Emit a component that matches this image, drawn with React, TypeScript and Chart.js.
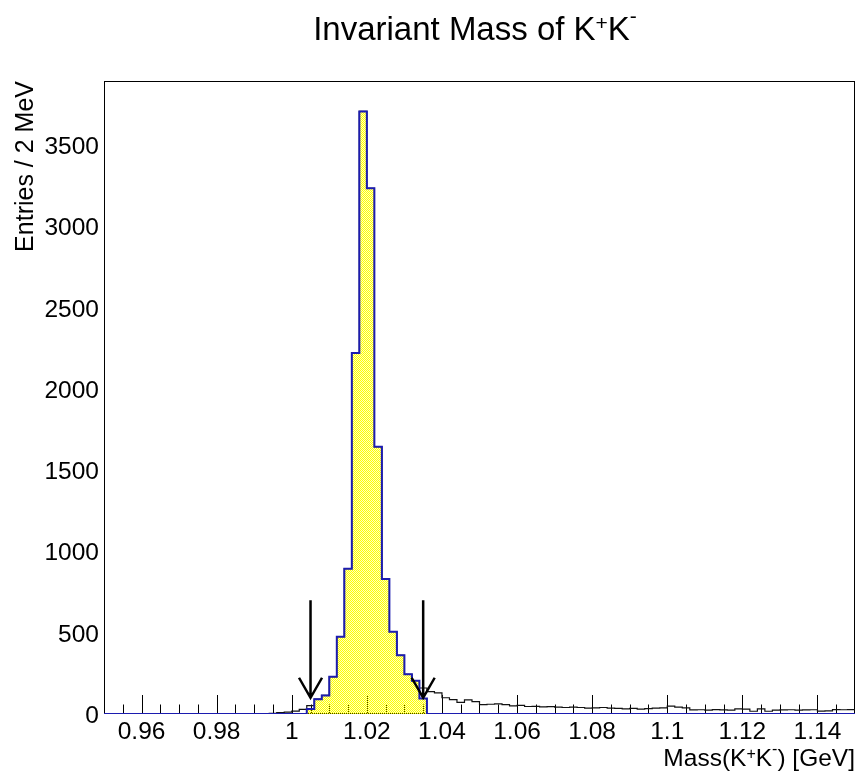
import React, { useEffect, useRef } from 'react';
import { Chart, registerables } from 'chart.js';

Chart.register(...registerables);

// ---- binning & data ----
const xMin = 0.95;
const xMax = 1.15;
const binWidth = 0.002;
const yMax = 3895;

// all K+K- candidates (entries per 2 MeV bin)
const allCounts = [
  0, 0, 0, 0, 0, 0, 0, 0, 0, 0,
  0, 0, 0, 0, 0, 0, 0, 0, 0, 0,
  0, 0, 4, 9, 11, 18, 29, 51, 91, 114,
  229, 476, 894, 2222, 3708, 3235, 1644, 830, 506, 361,
  244, 205, 160, 138, 130, 100, 88, 72, 87, 76,
  58, 60, 62, 58, 50, 53, 46, 47, 44, 45,
  42, 40, 42, 40, 36, 38, 40, 36, 34, 31,
  34, 30, 33, 36, 38, 48, 42, 38, 25, 26,
  24, 27, 25, 24, 31, 30, 17, 31, 17, 24,
  25, 26, 24, 25, 26, 18, 19, 27, 26, 27,
];

// candidates inside the mass window
const selectedCounts = [
  0, 0, 0, 0, 0, 0, 0, 0, 0, 0,
  0, 0, 0, 0, 0, 0, 0, 0, 0, 0,
  0, 0, 0, 0, 0, 0, 0, 31, 91, 114,
  229, 476, 894, 2222, 3708, 3235, 1644, 830, 506, 361,
  244, 205, 96, 0, 0, 0, 0, 0, 0, 0,
  0, 0, 0, 0, 0, 0, 0, 0, 0, 0,
  0, 0, 0, 0, 0, 0, 0, 0, 0, 0,
  0, 0, 0, 0, 0, 0, 0, 0, 0, 0,
  0, 0, 0, 0, 0, 0, 0, 0, 0, 0,
  0, 0, 0, 0, 0, 0, 0, 0, 0, 0,
];

const xTickLabels = ['0.96', '0.98', '1', '1.02', '1.04', '1.06', '1.08', '1.1', '1.12', '1.14'];
const yTickLabels = ['0', '500', '1000', '1500', '2000', '2500', '3000', '3500'];

const arrowX = [1.005, 1.035];
const arrowYTop = 700;
const arrowYTip = 100;

const FONT = '"Liberation Sans", Arial, Helvetica, sans-serif';

type Part = { t: string; sup?: boolean; rise?: number };

function drawRich(
  ctx: CanvasRenderingContext2D,
  parts: Part[],
  x: number,
  y: number,
  size: number,
  supSize: number,
  align: 'left' | 'center' | 'right'
) {
  const widths = parts.map((p) => {
    ctx.font = `${p.sup ? supSize : size}px ${FONT}`;
    return ctx.measureText(p.t).width;
  });
  const total = widths.reduce((a, b) => a + b, 0);
  let cx = align === 'left' ? x : align === 'center' ? x - total / 2 : x - total;
  ctx.textAlign = 'left';
  ctx.textBaseline = 'alphabetic';
  parts.forEach((p, i) => {
    ctx.font = `${p.sup ? supSize : size}px ${FONT}`;
    ctx.fillText(p.t, cx, y - (p.rise || 0));
    cx += widths[i];
  });
}

function buildPoints(counts: number[]) {
  const pts = counts.map((c, i) => ({ x: xMin + i * binWidth, y: c }));
  pts.push({ x: xMax, y: counts[counts.length - 1] });
  return pts;
}

const decorPlugin = {
  id: 'rootDecor',
  beforeDatasetsDraw(chart: any) {
    const { ctx, chartArea: a, scales } = chart;
    const xs = scales.x;
    const ys = scales.y;
    ctx.save();
    ctx.strokeStyle = '#000';
    ctx.lineWidth = 1;
    // frame
    ctx.strokeRect(a.left + 0.5, a.top + 0.5, a.right - a.left - 1, a.bottom - a.top - 1);
    ctx.beginPath();
    for (const t of xs.ticks) {
      const v = t.value;
      if (v <= xMin + 1e-9 || v >= xMax - 1e-9) continue;
      const px = Math.round(xs.getPixelForValue(v)) + 0.5;
      const major = Math.abs(v / 0.02 - Math.round(v / 0.02)) < 1e-6;
      const len = major ? 19 : 9.5;
      ctx.moveTo(px, a.bottom);
      ctx.lineTo(px, a.bottom - len);
    }
    for (const t of ys.ticks) {
      const v = t.value;
      if (v <= 0 || v >= yMax || Math.abs(v / 100 - Math.round(v / 100)) > 1e-6) continue;
      const py = Math.round(ys.getPixelForValue(v)) + 0.5;
      const major = Math.abs(v / 500 - Math.round(v / 500)) < 1e-6;
      const len = major ? 22.5 : 11.3;
      ctx.moveTo(a.left, py);
      ctx.lineTo(a.left + len, py);
    }
    ctx.stroke();
    ctx.restore();
  },
  afterDatasetsDraw(chart: any) {
    const { ctx, chartArea: a, scales } = chart;
    const xs = scales.x;
    const ys = scales.y;
    ctx.save();
    // arrows
    ctx.strokeStyle = '#000';
    ctx.lineWidth = 2.5;
    ctx.lineCap = 'butt';
    ctx.lineJoin = 'miter';
    for (const ax of arrowX) {
      const px = xs.getPixelForValue(ax);
      const top = ys.getPixelForValue(arrowYTop);
      const tip = ys.getPixelForValue(arrowYTip);
      ctx.beginPath();
      ctx.moveTo(px, top);
      ctx.lineTo(px, tip);
      ctx.moveTo(px - 11.5, tip - 20);
      ctx.lineTo(px, tip);
      ctx.lineTo(px + 11.5, tip - 20);
      ctx.stroke();
    }
    ctx.fillStyle = '#000';
    // x tick labels
    ctx.font = `24.5px ${FONT}`;
    ctx.textAlign = 'center';
    ctx.textBaseline = 'alphabetic';
    for (const lbl of xTickLabels) {
      const px = xs.getPixelForValue(Number(lbl));
      ctx.fillText(lbl, px, a.bottom + 25);
    }
    // y tick labels
    ctx.textAlign = 'right';
    for (const lbl of yTickLabels) {
      const py = ys.getPixelForValue(Number(lbl));
      ctx.fillText(lbl, a.left - 5, py + 8.8);
    }
    // title
    drawRich(
      ctx,
      [
        { t: 'Invariant Mass of K' },
        { t: '+', sup: true, rise: 10 },
        { t: 'K' },
        { t: '-', sup: true, rise: 17 },
      ],
      475,
      40,
      33,
      21,
      'center'
    );
    // x axis title
    drawRich(
      ctx,
      [
        { t: 'Mass(K' },
        { t: '+', sup: true, rise: 7.5 },
        { t: 'K' },
        { t: '-', sup: true, rise: 12.5 },
        { t: ') [GeV]' },
      ],
      a.right,
      766,
      24.5,
      16,
      'right'
    );
    // y axis title
    ctx.translate(33, a.top);
    ctx.rotate(-Math.PI / 2);
    ctx.font = `25px ${FONT}`;
    ctx.textAlign = 'right';
    ctx.textBaseline = 'alphabetic';
    ctx.fillText('Entries / 2 MeV', 0, 0);
    ctx.restore();
  },
};

export default function App() {
  const ref = useRef<HTMLCanvasElement | null>(null);

  useEffect(() => {
    if (!ref.current) return;
    const pc = document.createElement('canvas');
    pc.width = 2;
    pc.height = 2;
    const pctx = pc.getContext('2d')!;
    pctx.fillStyle = '#ffff00';
    pctx.fillRect(0, 0, 1, 1);
    pctx.fillRect(1, 1, 1, 1);
    pctx.fillStyle = 'rgba(255,255,0,0.25)';
    pctx.fillRect(1, 0, 1, 1);
    pctx.fillRect(0, 1, 1, 1);
    const ctx = ref.current.getContext('2d')!;
    const pattern = ctx.createPattern(pc, 'repeat');

    const chart = new Chart(ref.current, {
      type: 'line',
      data: {
        datasets: [
          {
            label: 'selected',
            data: buildPoints(selectedCounts),
            stepped: 'before',
            borderColor: '#1c1cb0',
            borderWidth: 2,
            backgroundColor: pattern as any,
            fill: 'origin',
            pointRadius: 0,
            order: 0,
          } as any,
          {
            label: 'all',
            data: buildPoints(allCounts),
            stepped: 'before',
            borderColor: '#111',
            borderWidth: 1.2,
            fill: false,
            pointRadius: 0,
            order: 1,
          } as any,
        ],
      },
      options: {
        responsive: false,
        animation: false,
        devicePixelRatio: 1,
        events: [],
        layout: { padding: { top: 81, right: 3, left: 0, bottom: 0 } },
        plugins: {
          legend: { display: false },
          title: { display: false },
          tooltip: { enabled: false },
        },
        scales: {
          x: {
            type: 'linear',
            min: xMin,
            max: xMax,
            ticks: { display: false, stepSize: 0.005, autoSkip: false },
            grid: { display: false, drawTicks: false },
            border: { display: false },
            afterFit: (s: any) => {
              s.height = 63;
            },
          },
          y: {
            type: 'linear',
            min: 0,
            max: yMax,
            ticks: { display: false, stepSize: 100, autoSkip: false },
            grid: { display: false, drawTicks: false },
            border: { display: false },
            afterFit: (s: any) => {
              s.width = 104;
            },
          },
        },
      } as any,
      plugins: [decorPlugin],
    });
    return () => chart.destroy();
  }, []);

  return (
    <canvas
      ref={ref}
      width={858}
      height={777}
      style={{ position: 'absolute', left: 0, top: 0, display: 'block', background: '#fff' }}
    />
  );
}
